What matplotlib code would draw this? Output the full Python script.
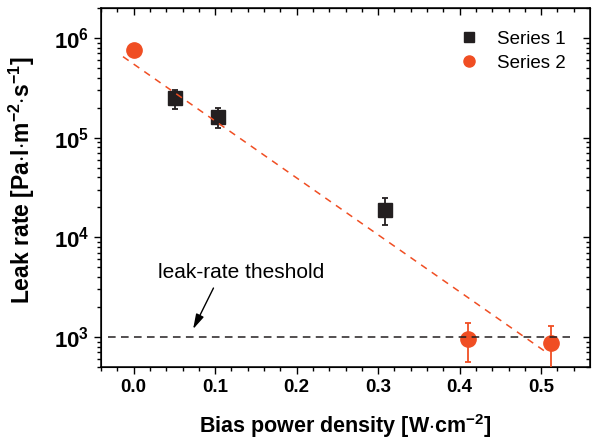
import matplotlib
matplotlib.use("Agg")
import matplotlib.pyplot as plt

# Series 1 (black squares)
x1 = [0.051, 0.103, 0.308]
y1 = [2.5e5, 1.62e5, 1.9e4]
y1_lo = [1.95e5, 1.24e5, 1.33e4]
y1_hi = [3.0e5, 1.97e5, 2.5e4]

# Series 2 (orange circles)
x2 = [0.0, 0.41, 0.512]
y2 = [7.5e5, 950, 880]
y2_lo = [7.5e5, 560, 400]
y2_hi = [7.5e5, 1380, 1280]

# fitted trend (end points)
fit_x = [-0.013, 0.504]
fit_y = [6.5e5, 725]

threshold = 1000
thr_x = [-0.032, 0.535]

orange = "#F04E23"
black = "#231F20"

plt.rcParams['font.family'] = ['Liberation Sans', 'DejaVu Sans']
plt.rcParams['mathtext.fontset'] = 'custom'
plt.rcParams['mathtext.rm'] = 'Liberation Sans'

fig = plt.figure(figsize=(5.95, 4.41), dpi=100)
ax = fig.add_axes([101 / 595, 1 - 367 / 441, (590 - 101) / 595, (367 - 8) / 441])

err1 = [[y - lo for y, lo in zip(y1, y1_lo)], [hi - y for y, hi in zip(y1, y1_hi)]]
err2 = [[y - lo for y, lo in zip(y2, y2_lo)], [hi - y for y, hi in zip(y2, y2_hi)]]

ax.errorbar(x1, y1, yerr=err1, fmt='s', color=black, ms=9.8, mec=black,
            elinewidth=1.3, capsize=2.5, capthick=1.3, zorder=3)
ax.errorbar(x2, y2, yerr=err2, fmt='o', color=orange, ms=11, mec=orange,
            elinewidth=1.3, capsize=2.5, capthick=1.3, zorder=3)

ax.plot(fit_x, fit_y, color=orange, lw=1.1, dashes=(4.5, 4), zorder=4)
ax.plot(thr_x, [threshold, threshold], color=black, lw=1.1, dashes=(5, 3.5), zorder=5)

# legend proxies
ax.plot([], [], 's', color=black, ms=7.5, label='Series 1')
ax.plot([], [], 'o', color=orange, ms=8, label='Series 2')
handles, labels = ax.get_legend_handles_labels()
ax.legend(handles[-2:], labels[-2:], loc='upper right', frameon=False,
          fontsize=13.5, handletextpad=0.9, borderaxespad=0.0,
          bbox_to_anchor=(0.965, 0.957), handlelength=1.2, labelspacing=0.35)

ax.text(0.132, 4470, 'leak-rate theshold', ha='center', va='center', fontsize=15)
ax.annotate('', xy=(0.073, 1200), xytext=(0.098, 3100),
            arrowprops=dict(arrowstyle='-|>,head_length=0.9,head_width=0.25',
                            color='black', lw=1.0, shrinkA=0, shrinkB=0))

ax.set_yscale('log')
ax.set_xlim(-0.04, 0.56)
ax.set_ylim(500, 2e6)
ax.set_xticks([0.0, 0.1, 0.2, 0.3, 0.4, 0.5])
ax.set_xticks([-0.04 + 0.02 * i for i in range(30)], minor=True)

ax.set_xlabel(r'Bias power density [W$\cdot$cm$^{\mathdefault{-2}}$]',
              fontsize=15.5, fontweight='bold', labelpad=12)
ax.set_ylabel(r'Leak rate [Pa$\cdot$l$\cdot$m$^{\mathdefault{-2}}$$\cdot$s$^{\mathdefault{-1}}$]',
              fontsize=16.5, fontweight='bold')
ax.yaxis.set_label_coords(-0.13, 0.52)

ax.tick_params(which='both', direction='out', width=1.0)
ax.tick_params(axis='x', labelsize=13.5)
ax.tick_params(axis='y', labelsize=16)
ax.tick_params(which='major', length=5)
ax.tick_params(which='minor', length=3)
for lab in ax.get_xticklabels() + ax.get_yticklabels():
    lab.set_fontweight('bold')

for s in ax.spines.values():
    s.set_linewidth(1.1)

# inward ticks on top and right
top = ax.secondary_xaxis('top')
top.set_xticks([0.0, 0.1, 0.2, 0.3, 0.4, 0.5])
top.set_xticks([-0.04 + 0.02 * i for i in range(30)], minor=True)
top.tick_params(which='both', direction='in', labeltop=False, width=1.0)
top.tick_params(which='major', length=5)
top.tick_params(which='minor', length=3)

right = ax.twinx()
right.set_yscale('log')
right.set_ylim(ax.get_ylim())
right.tick_params(which='both', direction='in', labelright=False, width=1.0)
right.tick_params(which='major', length=5)
right.tick_params(which='minor', length=3)

fig.savefig('out.png', dpi=100)
